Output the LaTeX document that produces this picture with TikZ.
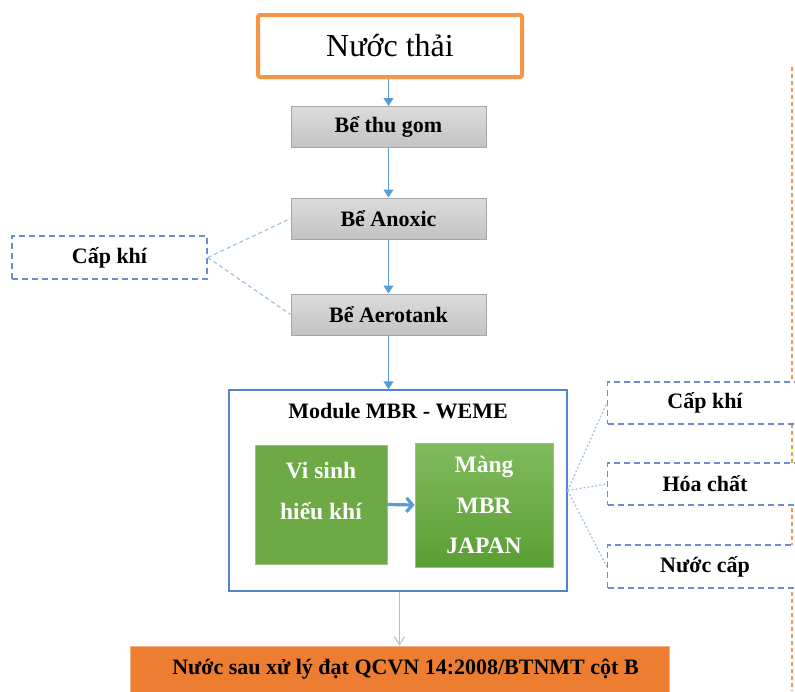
\documentclass[tikz,border=0pt]{standalone}
\usepackage{fontspec}
\setmainfont{Liberation Serif}
\usetikzlibrary{arrows.meta}
\definecolor{ntorange}{HTML}{F79646}
\definecolor{arrblue}{HTML}{5B9BD5}
\definecolor{dashblue}{HTML}{6A8DD3}
\definecolor{connblue}{HTML}{9DC3E6}
\definecolor{modblue}{HTML}{5583CC}
\definecolor{grayedge}{HTML}{A6A6A6}
\definecolor{graytop}{HTML}{DCDCDC}
\definecolor{graybot}{HTML}{C3C3C3}
\definecolor{greenA}{HTML}{6DAA45}
\definecolor{greenTop}{HTML}{80BB5E}
\definecolor{greenBot}{HTML}{5B9E33}
\definecolor{outorange}{HTML}{ED7D31}
\tikzset{
  ntbox/.style={draw=ntorange, line width=4pt, rounded corners=2pt, fill=white,
    minimum width=264pt, minimum height=62pt, inner sep=0pt,
    font=\fontsize{32}{36}\selectfont},
  graybox/.style={draw=grayedge, line width=1pt, top color=graytop, bottom color=graybot,
    minimum width=195pt, minimum height=41pt, inner sep=0pt,
    font=\fontsize{22}{26}\selectfont\bfseries},
  dashbox/.style={draw=dashblue, line width=1.5pt, dash pattern=on 6pt off 4pt, fill=white,
    minimum width=195pt, minimum height=42pt, inner sep=0pt,
    font=\fontsize{22}{26}\selectfont\bfseries},
  modbox/.style={draw=modblue, line width=1.3pt, fill=white,
    minimum width=338pt, minimum height=201pt, inner sep=0pt},
  greenbox/.style={draw=greenA!70!white, line width=0.8pt, inner sep=0pt, align=center,
    text=white, font=\fontsize{23.5}{40.5}\selectfont\bfseries},
  greentext/.style={text=white, align=center, font=\fontsize{23.5}{40.5}\selectfont\bfseries},
  outbox/.style={draw=outorange!60!white, line width=0.8pt, fill=outorange, inner sep=0pt,
    minimum width=539pt, minimum height=56pt},
  outtext/.style={font=\fontsize{22}{26}\selectfont\bfseries},
  arr/.style={draw=arrblue, line width=1pt, -{Triangle[length=8pt,width=10pt]}},
  openarr/.style={draw=connblue, line width=1pt, -{Straight Barb[length=8pt,width=10pt]}},
  thickarr/.style={draw=arrblue, line width=3.2pt, -{Straight Barb[length=6pt,width=14pt]}},
  dashconn/.style={draw=connblue, line width=1.2pt, dash pattern=on 4pt off 3pt},
  dotconn/.style={draw=connblue, line width=1.2pt, dash pattern=on 2pt off 2pt},
  vline/.style={draw=ntorange, line width=1.2pt, dash pattern=on 4pt off 3pt}
}
\begin{document}
\begin{tikzpicture}[x=1pt,y=-1pt]
\clip (0,0) rectangle (795,691);
\fill[white] (0,0) rectangle (795,691);
% orange dashed vertical line
\coordinate (vtop) at (792,67);
\coordinate (vbot) at (792,691);
\draw[vline] (vtop) -- (vbot);
% main chain
\node[ntbox] (nt) at (390,46) {Nước thải};
\node[graybox] (g1) at (388.5,127) {Bể thu gom};
\node[graybox] (g2) at (388.5,218.5) {Bể Anoxic};
\node[graybox] (g3) at (388.5,314.5) {Bể Aerotank};
\node[dashbox, minimum height=43pt] (lk) at (109.5,257.5) {Cấp khí};
\node[modbox] (mod) at (398,490.5) {};
\node[font=\fontsize{22}{26}\selectfont\bfseries] (title) at (398,411) {Module MBR - WEME};
\node[greenbox, fill=greenA, minimum width=132pt, minimum height=119pt,
  label={[greentext, yshift=13.5pt]center:Vi sinh\\hiếu khí}] (vs) at (321,504.5) {};
\node[greenbox, top color=greenTop, bottom color=greenBot, minimum width=138pt, minimum height=124pt] (mbr) at (484,505)
  {Màng\\MBR\\JAPAN};
% right boxes
\node[dashbox] (r1) at (705,403) {Cấp khí};
\node[dashbox] (r2) at (705,484) {Hóa chất};
\node[dashbox, minimum height=43pt] (r3) at (705,566.5) {Nước cấp};
% bottom
\node[outbox, label={[outtext, xshift=6pt, yshift=4.5pt]center:Nước sau xử lý đạt QCVN 14:2008/BTNMT cột B}] (out) at (399.5,674) {};
% arrows
\draw[arr] (nt.south -| g1.north) -- (g1.north);
\draw[arr] (g1.south) -- (g2.north);
\draw[arr] (g2.south) -- (g3.north);
\draw[arr] (g3.south) -- (g3.south |- mod.north);
\draw[openarr] (mod.south -| out.north) -- (out.north);
\draw[thickarr] (vs.east) -- (mbr.west);
% connectors
\draw[dashconn] (lk.east) -- (g2.west);
\draw[dashconn] (lk.east) -- (g3.west);
\draw[dotconn] (mod.east) -- (r1.west);
\draw[dotconn] (mod.east) -- (r2.west);
\draw[dotconn] (mod.east) -- (r3.west);
\end{tikzpicture}
\end{document}
